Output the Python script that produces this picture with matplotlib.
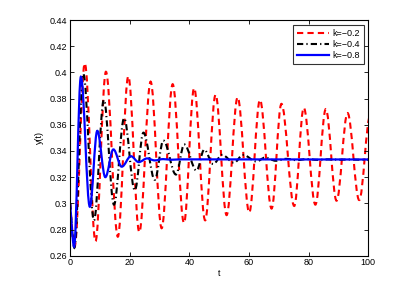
import numpy as np
import matplotlib
matplotlib.use("Agg")
import matplotlib.pyplot as plt
from matplotlib.path import Path
from matplotlib.patches import PathPatch
from matplotlib.lines import Line2D

plt.rcParams['font.family'] = ['Liberation Sans', 'DejaVu Sans']

# turning points (t, y)
red_t = [0, 1.5, 4.9, 8.5, 12.0, 16.0, 19.5, 23.2, 27.0, 30.7, 34.4, 38.2, 41.6, 45.3,
         48.8, 52.5, 56.2, 60.1, 63.7, 67.6, 70.9, 75.2, 78.4, 82.3, 85.8, 89.4,
         93.1, 97.0, 100.7]
red_y = [0.300, 0.267, 0.407, 0.271, 0.4005, 0.2745, 0.397, 0.278, 0.393, 0.281, 0.391,
         0.285, 0.388, 0.287, 0.383, 0.291, 0.381, 0.293, 0.379, 0.296, 0.376,
         0.298, 0.373, 0.299, 0.372, 0.302, 0.369, 0.3025, 0.367]

black_t = [0, 1.4, 4.4, 8.0, 11.3, 14.7, 18.1, 21.7, 24.6, 28.4, 31.3, 35.5, 38.3,
           42.4, 45.0, 48.0, 51.0, 55.0, 58.0, 62.5, 65.5, 69.0, 72.5, 76.0, 79.5,
           83.0, 86.5, 90.0, 93.5, 97.0, 100.5]
black_y = [0.300, 0.266, 0.399, 0.287, 0.379, 0.299, 0.365, 0.310, 0.354, 0.318,
           0.348, 0.322, 0.345, 0.325, 0.341, 0.330, 0.337, 0.331, 0.337, 0.332,
           0.335, 0.3325, 0.334, 0.333, 0.3338, 0.3332, 0.3336, 0.3333, 0.3335,
           0.3333, 0.3334]

blue_t = [0, 1.3, 3.6, 6.6, 9.1, 11.8, 14.5, 17.3, 20.4, 23.0, 25.8, 28.4, 31.2,
          34.0, 37.0, 100]
blue_y = [0.300, 0.2668, 0.3967, 0.2974, 0.3554, 0.320, 0.3412, 0.328, 0.336,
          0.3315, 0.3343, 0.3328, 0.3338, 0.3333, 0.3336, 0.3335]

labels = ['k=\u22120.2', 'k=\u22120.4', 'k=\u22120.8']


def smooth_path(ts, ys):
    # cubic bezier between turning points, flat tangents at the extrema
    verts = [(ts[0], ys[0])]
    codes = [Path.MOVETO]
    for i in range(1, len(ts)):
        dt = ts[i] - ts[i - 1]
        c1 = (ts[i - 1] + 0.36 * dt, ys[i - 1]) if i > 1 else (ts[0], ys[0])
        c2 = (ts[i] - 0.36 * dt, ys[i])
        verts += [c1, c2, (ts[i], ys[i])]
        codes += [Path.CURVE4] * 3
    return Path(verts, codes)


fig = plt.figure(figsize=(4.01, 2.83), dpi=100)
ax = fig.add_axes([0.175, 0.0965, 0.743, 0.8325])

styles = [
    dict(color='#ff0000', lw=1.5, ls=(0, (3, 2))),
    dict(color='black', lw=1.5, ls=(0, (3, 1.5, 0.6, 1.5))),
    dict(color='#0000ff', lw=1.6, ls='-'),
]
handles = []
for (ts, ys), st, lab in zip([(red_t, red_y), (black_t, black_y), (blue_t, blue_y)],
                             styles, labels):
    patch = PathPatch(smooth_path(ts, ys), fill=False, edgecolor=st['color'],
                      lw=st['lw'], linestyle=st['ls'], capstyle='butt')
    ax.add_patch(patch)
    handles.append(Line2D([], [], color=st['color'], lw=st['lw'], ls=st['ls'], label=lab))

ax.set_xlim(0, 100)
ax.set_ylim(0.26, 0.44)
ax.set_xticks(np.arange(0, 101, 20))
yt = np.round(np.arange(0.26, 0.441, 0.02), 2)
ax.set_yticks(yt)
ax.set_yticklabels([('%g' % v) for v in yt])
ax.tick_params(direction='in', top=True, right=True, labelsize=6.5, length=3, width=0.6, pad=2)
for s in ax.spines.values():
    s.set_linewidth(0.8)

ax.set_xlabel('t', fontsize=6.5, labelpad=1)
ax.set_ylabel('y(t)', fontsize=6.5, labelpad=4)

leg = ax.legend(handles=handles, loc='upper right', fontsize=6.5, frameon=True, fancybox=False,
                edgecolor='black', handlelength=3.6, handletextpad=0.3, borderpad=0.45,
                labelspacing=0.25, borderaxespad=0.5)
leg.get_frame().set_linewidth(0.8)

fig.savefig('out.png', dpi=100)
